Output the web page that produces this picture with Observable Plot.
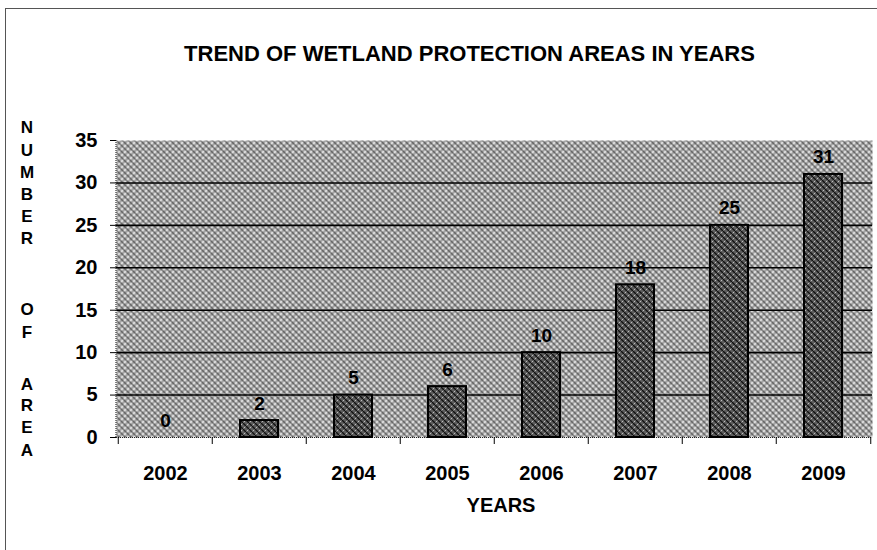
<!DOCTYPE html>
<html><head><meta charset="utf-8">
<script src="https://cdn.jsdelivr.net/npm/d3@7"></script>
<script src="https://cdn.jsdelivr.net/npm/@observablehq/plot@0.6"></script>
<style>
html,body{margin:0;padding:0;background:#fff;width:877px;height:550px;overflow:hidden;position:relative;font-family:"Liberation Sans",Arial,sans-serif;color:#000;}
#frame{position:absolute;left:5px;top:8px;width:1000px;height:1000px;border-left:1px solid #555;border-top:1px solid #555;}
#title{position:absolute;left:0;width:939px;top:43px;text-align:center;font-size:22px;font-weight:bold;line-height:22px;}
.yl{position:absolute;left:17px;width:20px;text-align:center;font-size:17px;font-weight:bold;line-height:14px;}
#xlabel{position:absolute;left:401px;width:200px;top:495px;text-align:center;font-size:20px;font-weight:bold;line-height:20px;}
#chart{position:absolute;left:0;top:0;}
</style>
</head><body>
<div id="frame"></div>
<div id="chart"></div>
<div id="title"></div>
<div id="xlabel"></div>
<script>
const years = ["2002","2003","2004","2005","2006","2007","2008","2009"];
const counts = [0, 2, 5, 6, 10, 18, 25, 31];
const yTicks = [0, 5, 10, 15, 20, 25, 30, 35];
const gridValues = [5, 10, 15, 20, 25, 30];
const titleText = "TREND OF WETLAND PROTECTION AREAS IN YEARS";
const xLabelText = "YEARS";
const yLabelLetters = ["N","U","M","B","E","R","O","F","A","R","E","A"];
const yLabelTops = [121, 144, 166, 188, 210, 232, 303, 326, 378, 399, 421, 444];

document.getElementById("title").textContent = titleText;
document.getElementById("xlabel").textContent = xLabelText;
yLabelLetters.forEach((ch, i) => {
  const s = document.createElement("div");
  s.className = "yl";
  s.style.top = yLabelTops[i] + "px";
  s.textContent = ch;
  document.body.appendChild(s);
});

const data = years.map((year, i) => ({year, count: counts[i]}));

const W = 877, H = 550, mL = 116, mR = 5, mT = 140, mB = 113;
const step = (W - mL - mR) / years.length;

const defsMark = () => {
  const g = d3.create("svg:g");
  const defs = g.append("defs");
  const bg = defs.append("pattern").attr("id", "bgpat").attr("width", 6).attr("height", 6).attr("patternUnits", "userSpaceOnUse");
  bg.append("rect").attr("width", 6).attr("height", 6).attr("fill", "#a4a4a4");
  bg.append("path").attr("d", "M-1,1L1,-1M0,6L6,0M5,7L7,5").attr("stroke", "#ffffff").attr("stroke-width", 1.5);
  bg.append("path").attr("d", "M-1,5L1,7M0,0L6,6M5,-1L7,1").attr("stroke", "#444").attr("stroke-width", 1.2);
  const bp = defs.append("pattern").attr("id", "barpat").attr("width", 6).attr("height", 6).attr("patternUnits", "userSpaceOnUse");
  bp.append("rect").attr("width", 6).attr("height", 6).attr("fill", "#5e5e5e");
  bp.append("path").attr("d", "M-1,1L1,-1M0,6L6,0M5,7L7,5").attr("stroke", "#bdbdbd").attr("stroke-width", 1);
  bp.append("path").attr("d", "M-1,5L1,7M0,0L6,6M5,-1L7,1").attr("stroke", "#111").attr("stroke-width", 1.4);
  return g.node();
};

const leftLine = (index, scales, values, dims) => {
  const g = d3.create("svg:g");
  g.append("line")
    .attr("x1", dims.marginLeft).attr("x2", dims.marginLeft)
    .attr("y1", dims.marginTop).attr("y2", dims.height - dims.marginBottom)
    .attr("stroke", "#333").attr("stroke-width", 1.2).attr("stroke-dasharray", "1,1");
  return g.node();
};

const chart = Plot.plot({
  width: W, height: H,
  marginLeft: mL, marginRight: mR, marginTop: mT, marginBottom: mB,
  style: {fontFamily: "'Liberation Sans', Arial, sans-serif", fontSize: "20px", fontWeight: "bold", color: "#000", background: "transparent"},
  x: {domain: years, paddingInner: 0.6, paddingOuter: 0.3, axis: null},
  y: {domain: [0, 35], axis: null},
  marks: [
    defsMark,
    Plot.frame({fill: "url(#bgpat)", stroke: "none"}),
    Plot.ruleY(gridValues, {stroke: "#000", strokeWidth: 1.6}),
    Plot.ruleY([0], {stroke: "#222", strokeWidth: 1.2, strokeDasharray: "1,1"}),
    leftLine,
    Plot.barY(data.filter(d => d.count > 0), {x: "year", y: "count", fill: "url(#barpat)", stroke: "#000", strokeWidth: 2}),
    Plot.text(data, {x: "year", y: "count", text: d => String(d.count), lineAnchor: "bottom", dy: -11, fontSize: 19, fontWeight: "bold", fill: "#000"}),
    Plot.axisY({ticks: yTicks, tickSize: 6, tickPadding: 13, fontSize: 20, fontWeight: "bold", label: null}),
    Plot.axisX({tickSize: 0, tickPadding: 28, fontSize: 20, fontWeight: "bold", label: null}),
    Plot.axisX({tickSize: 7, tickFormat: () => "", label: null, dx: -step / 2}),
    Plot.axisX([years[years.length - 1]], {tickSize: 7, tickFormat: () => "", label: null, dx: step / 2})
  ]
});
document.getElementById("chart").appendChild(chart);
</script>
</body></html>
